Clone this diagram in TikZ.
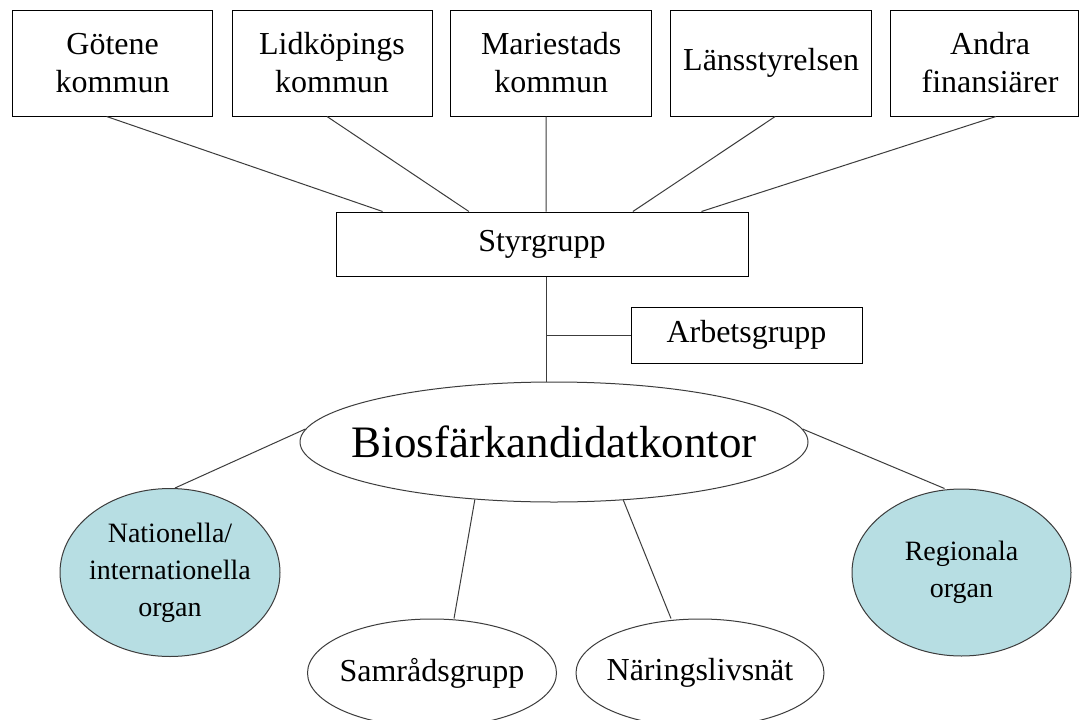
\documentclass[tikz,border=0pt]{standalone}
\usepackage{fontspec}
\setmainfont{Liberation Serif}
\usetikzlibrary{shapes.geometric,calc}
\definecolor{lblue}{RGB}{183,222,227}
\definecolor{linec}{RGB}{60,60,60}
\begin{document}
\begin{tikzpicture}[x=1pt,y=-1pt,
  box/.style={draw=black, line width=1pt, rectangle, inner sep=0pt, align=center,
              font=\fontsize{32}{38}\selectfont},
  txt/.style={inner sep=0pt, align=center, font=\fontsize{32}{38}\selectfont},
  ell/.style={draw=linec, line width=1pt, ellipse, inner sep=0pt},
  blueell/.style={ell, fill=lblue},
  lbl/.style={inner sep=0pt, align=center, font=\fontsize{32}{38}\selectfont},
  lblsmall/.style={inner sep=0pt, align=center, font=\fontsize{28}{37}\selectfont},
  lblbig/.style={inner sep=0pt, align=center, font=\fontsize{45}{50}\selectfont},
  conn/.style={draw=linec, line width=1pt}]
\useasboundingbox (0,0) rectangle (1079,720);
\fill[white] (0,0) rectangle (1079,720);

% top row
\node[box, minimum width=200pt, minimum height=106pt] (got) at (112.6,63) {Götene\\kommun};
\node[box, minimum width=200pt, minimum height=106pt] (lid) at (332,63) {Lidköpings\\kommun};
\node[box, minimum width=201pt, minimum height=106pt] (mar) at (551.2,63) {Mariestads\\kommun};
\node[box, minimum width=201pt, minimum height=106pt] (lan) at (771.2,63) {Länsstyrelsen};
\node[box, minimum width=188pt, minimum height=106pt] (andbox) at (984,63) {};
\node[txt] (and) at (990,63) {Andra\\finansiärer};

% middle
\node[box, minimum width=412pt, minimum height=64pt] (sty) at (542,244) {Styrgrupp};
\node[box, minimum width=231pt, minimum height=56pt] (arb) at (746.5,335) {Arbetsgrupp};

% ellipses
\node[ell, minimum width=508pt, minimum height=120pt,
      label={[lblbig]center:Biosfärkandidatkontor}] (bio) at (554,442) {};
\node[blueell, minimum width=220pt, minimum height=168pt,
      label={[lblsmall]center:Nationella/\\internationella\\organ}] (nat) at (170,572.5) {};
\node[blueell, minimum width=219pt, minimum height=167pt,
      label={[lblsmall]center:Regionala\\organ}] (reg) at (961.5,572.5) {};
\node[ell, minimum width=249pt, minimum height=108pt,
      label={[lbl]center:Samrådsgrupp}] (sam) at (432,673) {};
\node[ell, minimum width=248pt, minimum height=108pt,
      label={[lbl]center:Näringslivsnät}] (nar) at (700,673) {};

% connectors top row -> Styrgrupp
\draw[conn] ($(got.south)+(-6,0)$) -- ($(sty.north west)!0.114!(sty.north east)$);
\draw[conn] ($(lid.south)+(-5,0)$) -- ($(sty.north west)!0.323!(sty.north east)$);
\draw[conn] ($(mar.south)+(-5,0)$) -- ($(sty.north)+(4,0)$);
\draw[conn] ($(lan.south)+(4,0)$) -- ($(sty.north west)!0.720!(sty.north east)$);
\draw[conn] ($(andbox.south)+(12,0)$) -- ($(sty.north west)!0.886!(sty.north east)$);

% Styrgrupp -> Biosfar, branch to Arbetsgrupp
\coordinate (sb) at ($(sty.south)+(4,0)$);
\draw[conn] (sb) -- (sb |- bio.north);
\draw[conn] (sb |- arb.west) -- (arb.west);

% Biosfar -> others
\draw[conn] (bio.177) -- ($(nat.north)+(5,0)$);
\draw[conn] (bio.3) -- ($(reg.north)+(-17,0)$);
\draw[conn] (bio.216) -- ($(sam.north)+(22,0)$);
\draw[conn] (bio.320) -- ($(nar.north)+(-29,0)$);
\end{tikzpicture}
\end{document}
